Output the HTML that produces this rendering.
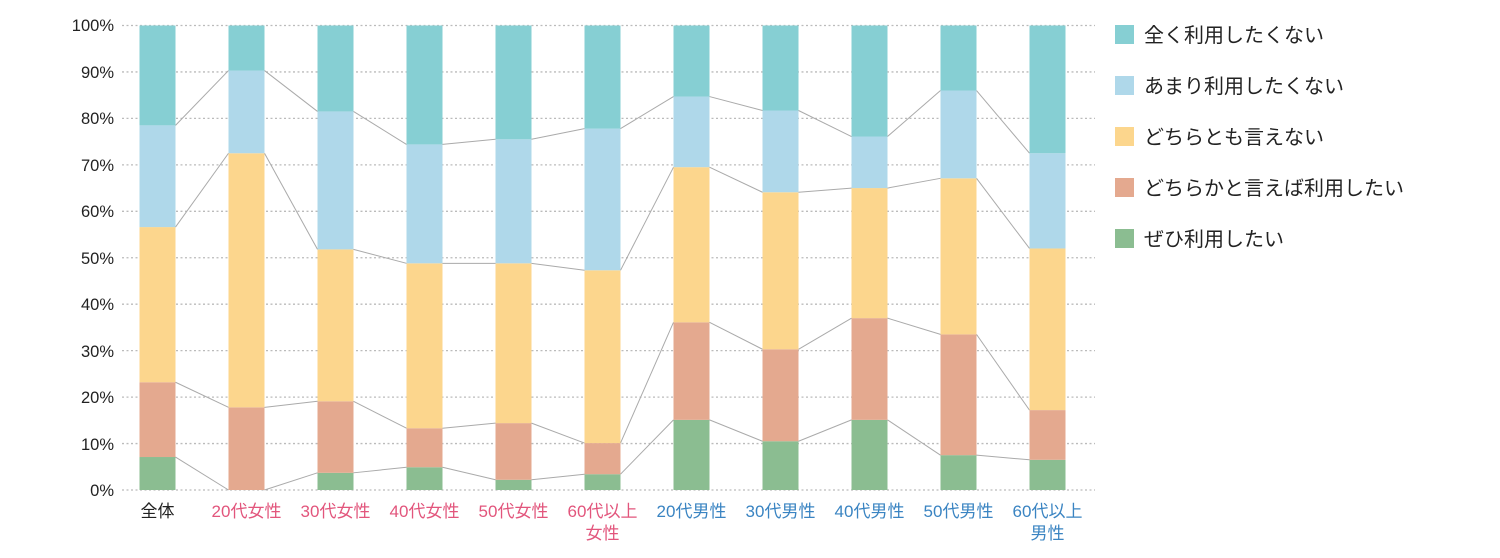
<!DOCTYPE html>
<html><head><meta charset="utf-8"><style>
html,body{margin:0;padding:0;background:#fff;}
svg{display:block;font-family:"Liberation Sans","Noto Sans CJK JP",sans-serif;}
</style></head><body>
<svg id="c" width="1500" height="558" viewBox="0 0 1500 558">
<g font-size="16.5" fill="#222" text-anchor="end">
<text x="114" y="31">100%</text><text x="114" y="78">90%</text><text x="114" y="124">80%</text>
<text x="114" y="171">70%</text><text x="114" y="217">60%</text><text x="114" y="264">50%</text>
<text x="114" y="310">40%</text><text x="114" y="357">30%</text><text x="114" y="403">20%</text>
<text x="114" y="450">10%</text><text x="114" y="496">0%</text>
</g>
<g id="grid"></g><g id="lines"></g><g id="bars"></g>
<g font-size="17" text-anchor="middle">
<text x="157.5" y="517" fill="#222">全体</text>
<text x="246.5" y="517" fill="#e2557c">20代女性</text>
<text x="335.5" y="517" fill="#e2557c">30代女性</text>
<text x="424.5" y="517" fill="#e2557c">40代女性</text>
<text x="513.5" y="517" fill="#e2557c">50代女性</text>
<text x="602.5" y="517" fill="#e2557c">60代以上</text>
<text x="602.5" y="539" fill="#e2557c">女性</text>
<text x="691.5" y="517" fill="#3a84c2">20代男性</text>
<text x="780.5" y="517" fill="#3a84c2">30代男性</text>
<text x="869.5" y="517" fill="#3a84c2">40代男性</text>
<text x="958.5" y="517" fill="#3a84c2">50代男性</text>
<text x="1047.5" y="517" fill="#3a84c2">60代以上</text>
<text x="1047.5" y="539" fill="#3a84c2">男性</text>
</g>
<g font-size="20" fill="#222">
<rect x="1115" y="25" width="19" height="19" fill="#86cfd3"/><text x="1144" y="42">全く利用したくない</text>
<rect x="1115" y="76" width="19" height="19" fill="#afd8ea"/><text x="1144" y="93">あまり利用したくない</text>
<rect x="1115" y="127" width="19" height="19" fill="#fcd68d"/><text x="1144" y="144">どちらとも言えない</text>
<rect x="1115" y="178" width="19" height="19" fill="#e4a98f"/><text x="1144" y="195">どちらかと言えば利用したい</text>
<rect x="1115" y="229" width="19" height="19" fill="#8bbd91"/><text x="1144" y="246">ぜひ利用したい</text>
</g>
</svg>
<script>
var ns="http://www.w3.org/2000/svg";
function el(p,t,a){var e=document.createElementNS(ns,t);for(var k in a)e.setAttribute(k,a[k]);document.getElementById(p).appendChild(e);}
var y0=490,s=4.645;
function Y(v){return y0-v*s;}
for(var i=0;i<=10;i++){el("grid","line",{x1:122,x2:1095,y1:Y(i*10),y2:Y(i*10),stroke:"#bbb","stroke-width":1.3,"stroke-dasharray":"2 2.5"});}
var d=[[7.1,23.2,56.6,78.5],[0,17.8,72.5,90.3],[3.7,19.1,51.8,81.5],[4.9,13.3,48.8,74.4],[2.2,14.4,48.8,75.5],[3.4,10.1,47.3,77.8],[15.1,36.1,69.5,84.7],[10.5,30.3,64.1,81.7],[15.1,37,65,76.1],[7.5,33.5,67.1,86],[6.5,17.2,52,72.5]];
var cols=["#8bbd91","#e4a98f","#fcd68d","#afd8ea","#86cfd3"];
for(var b=0;b<d.length;b++){var x=139.5+b*89;var prev=0;var v=d[b].concat([100]);
for(var j=0;j<5;j++){var h=Y(prev)-Y(v[j]);if(h>0)el("bars","rect",{x:x,y:Y(v[j]),width:36,height:h,fill:cols[j]});prev=v[j];}
if(b<d.length-1){for(var j=0;j<4;j++)el("lines","line",{x1:x+36,y1:Y(d[b][j]),x2:x+89,y2:Y(d[b+1][j]),stroke:"#aaa","stroke-width":1});}}
</script>
</body></html>
